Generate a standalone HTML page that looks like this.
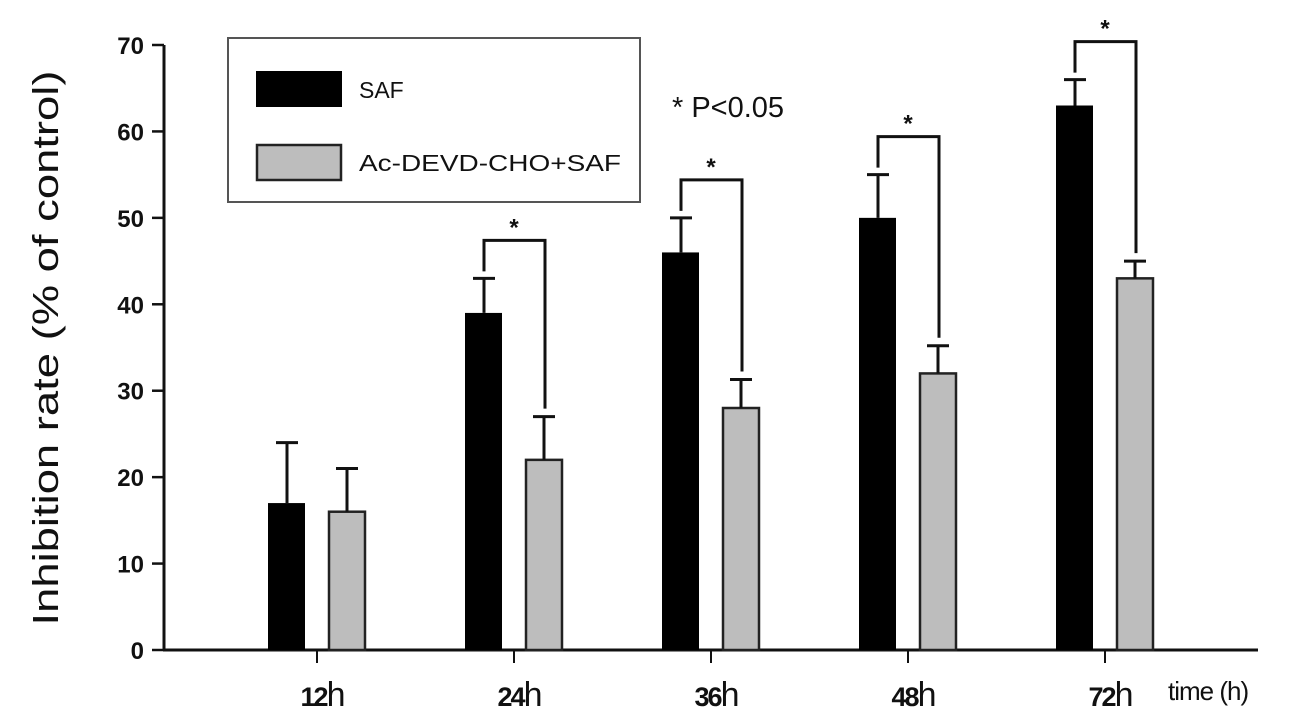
<!DOCTYPE html>
<html><head><meta charset="utf-8"><style>
body{margin:0;background:#fff}
svg{display:block}
text{font-family:"Liberation Sans",sans-serif;fill:#111}
</style></head><body>
<svg id="c" width="1299" height="722" viewBox="0 0 1299 722"></svg>
<script>
const categories=["12","24","36","48","72"];
const safValues=[17,39,46,50,63];
const safErr=[7,4,4,5,3];
const acValues=[16,22,28,32,43];
const acErr=[5,5,3.3,3.2,2];
const significant=[false,true,true,true,true];
const yTicks=[0,10,20,30,40,50,60,70];

const NS="http://www.w3.org/2000/svg";
const svg=document.getElementById('c');
function y(v){return 650-v*(650-45)/70;}
function xc(i){return 317+197*i;}
function mk(tag,attrs,parent){const e=document.createElementNS(NS,tag);for(const k in attrs)e.setAttribute(k,attrs[k]);(parent||svg).appendChild(e);return e;}

let ax=mk('line',{x1:164,y1:45,x2:164,y2:650,stroke:'#111','stroke-width':3});


let bx=mk('line',{x1:163,y1:650,x2:1258,y2:650,stroke:'#111','stroke-width':3});



yTicks.forEach(t=>{
  const l=mk('line',{x1:152,y1:y(t),x2:164,y2:y(t),stroke:'#111','stroke-width':2.5});
  
  
  const tx=mk('text',{x:144,y:y(t)+9,'text-anchor':'end','font-size':24,'font-weight':'bold'});
  tx.textContent=t;
  
  
});

categories.forEach((c,i)=>{
  const cx=xc(i);
  const tk=mk('line',{x1:cx,y1:650,x2:cx,y2:663,stroke:'#111','stroke-width':2});
  
  
  const g=mk('text',{x:cx+6,y:706,'text-anchor':'middle','font-size':34,'font-family':'Liberation Serif, serif'});
  g.innerHTML='<tspan font-family="Liberation Sans, sans-serif" font-size="27" font-weight="bold" letter-spacing="-2">'+c+'</tspan>h';
  
  

  const b=mk('rect',{x:cx-49,y:y(safValues[i]),width:37,height:650-y(safValues[i]),fill:'#000'});
  
  
  const bt=y(safValues[i]+safErr[i]);
  const e1=mk('path',{d:`M${cx-30},${y(safValues[i])} V${bt} M${cx-41},${bt} H${cx-19}`,stroke:'#111','stroke-width':3,fill:'none'});
  
  
  const g2=mk('rect',{x:cx+12,y:y(acValues[i]),width:36,height:650-y(acValues[i]),fill:'#bdbdbd',stroke:'#222','stroke-width':2.5});
  
  
  const gt=y(acValues[i]+acErr[i]);
  const e2=mk('path',{d:`M${cx+30},${y(acValues[i])} V${gt} M${cx+19},${gt} H${cx+41}`,stroke:'#111','stroke-width':3,fill:'none'});
  
  

  if(significant[i]){
    const top=bt-38;
    const br=mk('path',{d:`M${cx-30},${bt-7} V${top} H${cx+31} V${gt-8}`,stroke:'#111','stroke-width':3,fill:'none'});
    
    
    const st=mk('text',{x:cx,y:top-5,'text-anchor':'middle','font-size':24,'font-weight':'bold'});
    st.textContent='*';
    
    
  }
});

const tt=mk('text',{x:1168,y:700,'font-size':26,'letter-spacing':'-1'});
tt.textContent='time (h)';



const yt=mk('text',{x:0,y:0,'font-size':36,'text-anchor':'middle',textLength:555,lengthAdjust:'spacingAndGlyphs',transform:'translate(58,348) rotate(-90)'});
yt.textContent='Inhibition rate  (% of control)';



const pv=mk('text',{x:672,y:117,'font-size':29});
pv.textContent='* P<0.05';



const lg=mk('g',{});


mk('rect',{x:228,y:38,width:412,height:164,fill:'#fff',stroke:'#555','stroke-width':2},lg);
const s1=mk('rect',{x:256,y:71,width:86,height:36,fill:'#000'},lg);


const t1=mk('text',{x:359,y:98,'font-size':23},lg);
t1.textContent='SAF';


const s2=mk('rect',{x:257,y:145,width:84,height:35,fill:'#bdbdbd',stroke:'#222','stroke-width':2.5},lg);


const t2=mk('text',{x:359,y:171,'font-size':23,textLength:262,lengthAdjust:'spacingAndGlyphs'},lg);
t2.textContent='Ac-DEVD-CHO+SAF';


</script>
</body></html>
